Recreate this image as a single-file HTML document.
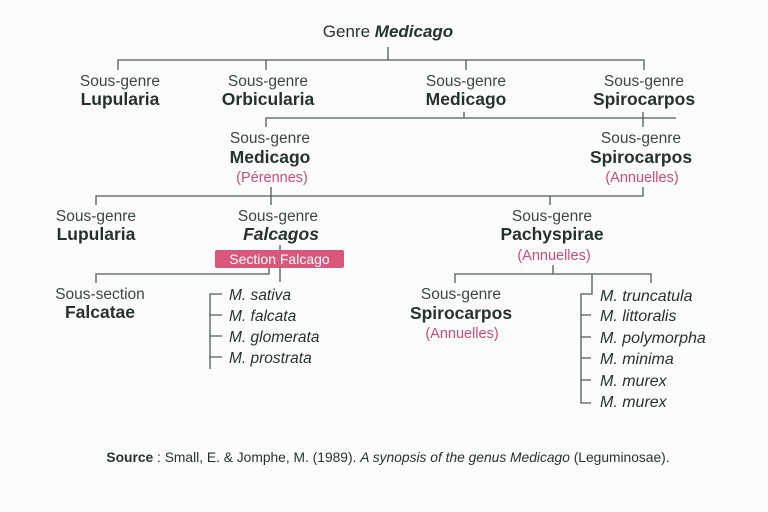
<!DOCTYPE html>
<html><head><meta charset="utf-8"><style>
html,body{margin:0;padding:0;background:#fcfcfd;}
svg{display:block;}
text{font-family:"Liberation Sans",sans-serif;fill:#25332f;}
.s{font-size:15.5px;fill:#3a4744;}
.n{font-size:17.5px;font-weight:bold;}
.p{font-size:14.5px;fill:#cf4a78;}
.i{font-size:15.5px;font-style:italic;}
.j{font-size:15.5px;font-style:italic;}
</style></head><body>
<svg width="768" height="512" viewBox="0 0 768 512" xmlns="http://www.w3.org/2000/svg">
<g stroke="#4c5c57" stroke-width="1.3" fill="none">
<path d="M388 47V60M118 70V60H644V70M266 60V70M466 60V70"/>
<path d="M266 127V118H676M464 112V118M643 112V127"/>
<path d="M96 205V196H643V187M271 187V205M550 196V205"/>
<path d="M280 245V250M269 268V274H96V283M280 268V282"/>
<path d="M222 294H210V369M210 315H222M210 336H222M210 357H222"/>
<path d="M553 265V274M455 283V274H651V283M592 274V294H581V403H591M581 315H591M581 337H591M581 358H591M581 380H591"/>
</g>
<text x="388" y="37" text-anchor="middle" style="font-size:17px">Genre <tspan font-weight="bold" font-style="italic">Medicago</tspan></text>
<g text-anchor="middle">
<text class="s" x="120" y="86">Sous-genre</text><text class="n" x="120" y="105">Lupularia</text>
<text class="s" x="268" y="86">Sous-genre</text><text class="n" x="268" y="105">Orbicularia</text>
<text class="s" x="466" y="86">Sous-genre</text><text class="n" x="466" y="105">Medicago</text>
<text class="s" x="644" y="86">Sous-genre</text><text class="n" x="644" y="105">Spirocarpos</text>
<text class="s" x="270" y="143">Sous-genre</text><text class="n" x="270" y="163">Medicago</text><text class="p" x="272" y="182">(Pérennes)</text>
<text class="s" x="641" y="143">Sous-genre</text><text class="n" x="641" y="163">Spirocarpos</text><text class="p" x="642" y="182">(Annuelles)</text>
<text class="s" x="96" y="221">Sous-genre</text><text class="n" x="96" y="240">Lupularia</text>
<text class="s" x="278" y="221">Sous-genre</text><text class="n" x="281" y="240" font-style="italic">Falcagos</text>
<text class="s" x="552" y="221">Sous-genre</text><text class="n" x="552" y="240">Pachyspirae</text><text class="p" x="554" y="260">(Annuelles)</text>
<text class="s" x="100" y="299">Sous-section</text><text class="n" x="100" y="318">Falcatae</text>
<text class="s" x="461" y="299">Sous-genre</text><text class="n" x="461" y="319">Spirocarpos</text><text class="p" x="462" y="338">(Annuelles)</text>
</g>
<rect x="215" y="250" width="129" height="18" rx="2" fill="#d9577a"/>
<text x="279.5" y="264" text-anchor="middle" style="font-size:14px;fill:#fff">Section Falcago</text>
<text class="i" x="229" y="300">M. sativa</text>
<text class="i" x="229" y="321">M. falcata</text>
<text class="i" x="229" y="342">M. glomerata</text>
<text class="i" x="229" y="363">M. prostrata</text>
<text class="j" x="600" y="301" style="font-size:16px">M. truncatula</text>
<text class="j" x="600" y="321" style="font-size:16px">M. littoralis</text>
<text class="j" x="600" y="343" style="font-size:16px">M. polymorpha</text>
<text class="j" x="600" y="364" style="font-size:16px">M. minima</text>
<text class="j" x="600" y="386" style="font-size:16px">M. murex</text>
<text class="j" x="600" y="407" style="font-size:16px">M. murex</text>
<text x="388" y="462" text-anchor="middle" style="font-size:13.8px"><tspan font-weight="bold">Source</tspan> : Small, E. &amp; Jomphe, M. (1989). <tspan font-style="italic">A synopsis of the genus Medicago</tspan> (Leguminosae).</text>
</svg>
</body></html>
